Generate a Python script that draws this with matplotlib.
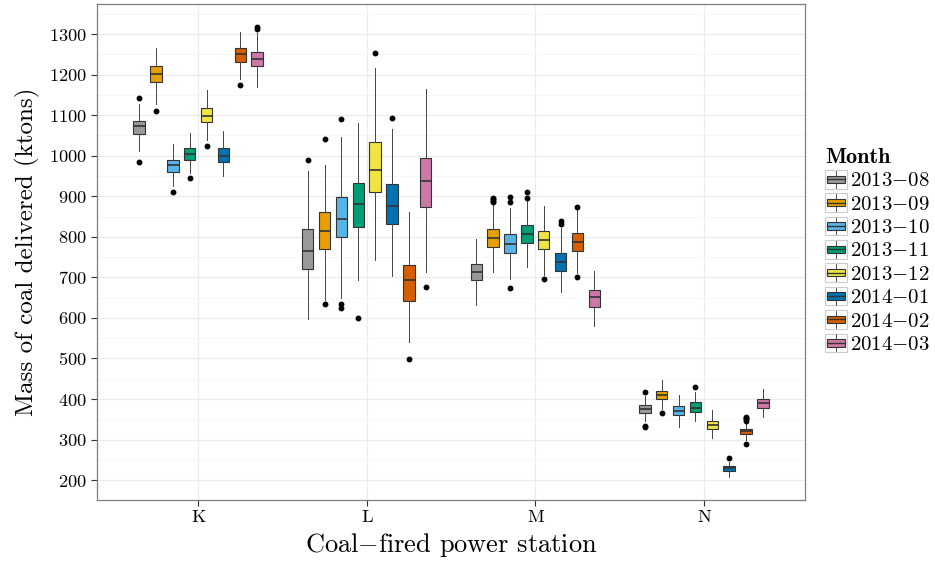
import matplotlib
matplotlib.use('Agg')
import matplotlib.pyplot as plt
import numpy as np
from matplotlib.patches import Rectangle
from matplotlib.lines import Line2D
from matplotlib.legend_handler import HandlerBase
from matplotlib.ticker import MultipleLocator

plt.rcParams['font.family'] = ['cmr10', 'DejaVu Serif']
plt.rcParams['mathtext.fontset'] = 'cm'
plt.rcParams['axes.formatter.use_mathtext'] = True

stations = ['K', 'L', 'M', 'N']
months = ['2013-08', '2013-09', '2013-10', '2013-11',
          '2013-12', '2014-01', '2014-02', '2014-03']
colors = ['#999999', '#E69F00', '#56B4E9', '#009E73',
          '#F0E442', '#0072B2', '#D55E00', '#CC79A7']

# rows = month, columns = station (K, L, M, N)
q3 = [
    [1085, 818, 734, 385],
    [1222, 860, 820, 420],
    [990, 897, 807, 382],
    [1020, 933, 829, 392],
    [1117, 1033, 814, 345],
    [1018, 929, 759, 234],
    [1265, 730, 810, 327],
    [1256, 994, 669, 399],
]
med = [
    [1072, 766, 713, 376],
    [1202, 815, 798, 409],
    [977, 845, 781, 371],
    [1003, 882, 807, 379],
    [1098, 965, 792, 336],
    [998, 877, 738, 229],
    [1250, 693, 788, 320],
    [1239, 938, 651, 389],
]
q1 = [
    [1054, 720, 693, 366],
    [1182, 770, 776, 399],
    [960, 799, 761, 360],
    [990, 825, 784, 368],
    [1082, 910, 769, 325],
    [985, 831, 715, 223],
    [1230, 642, 766, 313],
    [1220, 873, 627, 379],
]
whishi = [
    [1128, 963, 794, 408],
    [1265, 977, 882, 448],
    [1029, 1045, 870, 410],
    [1056, 1080, 888, 418],
    [1161, 1215, 876, 374],
    [1060, 1065, 821, 245],
    [1304, 860, 866, 342],
    [1303, 1164, 715, 424],
]
whislo = [
    [1012, 597, 633, 345],
    [1127, 645, 713, 375],
    [925, 648, 697, 331],
    [957, 693, 726, 345],
    [1039, 742, 707, 303],
    [950, 703, 663, 207],
    [1188, 540, 710, 300],
    [1170, 714, 581, 356],
]
fliers = [
    [[1143, 984], [990], [], [417, 333, 330]],
    [[1111], [1042, 634], [886, 889, 892, 895], [366]],
    [[911], [1091, 634, 624], [897, 885, 674], []],
    [[946], [600], [910, 896], [430]],
    [[1025], [1254], [696], []],
    [[], [1094], [839, 831], [255]],
    [[1175], [499], [874, 701], [345, 350, 353, 355, 290]],
    [[1318, 1312], [677], [], []],
]


class BoxHandler(HandlerBase):
    def create_artists(self, legend, orig_handle, xdescent, ydescent,
                       width, height, fontsize, trans):
        x0, y0 = -xdescent, -ydescent
        bg = Rectangle((x0, y0), width, height, fc='white', ec='#CCCCCC',
                       lw=0.8, transform=trans)
        bx = Rectangle((x0 + 0.1 * width, y0 + 0.3 * height), 0.8 * width,
                       0.4 * height, fc=orig_handle.get_facecolor(),
                       ec='#333333', lw=0.8, transform=trans)
        cx = x0 + width / 2
        w1 = Line2D([cx, cx], [y0 + 0.05 * height, y0 + 0.3 * height],
                    color='#333333', lw=0.6, transform=trans)
        w2 = Line2D([cx, cx], [y0 + 0.7 * height, y0 + 0.95 * height],
                    color='#333333', lw=0.6, transform=trans)
        md = Line2D([x0 + 0.1 * width, x0 + 0.9 * width],
                    [y0 + height / 2] * 2, color='#333333', lw=1.0,
                    transform=trans)
        return [bg, bx, w1, w2, md]


fig = plt.figure(figsize=(9.35, 5.67), dpi=100)
ax = fig.add_axes([97 / 935, 1 - 500 / 567, 708 / 935, 496 / 567])

base = np.arange(len(stations))
step = 0.1
bw = 0.068
handles = []
for i, m in enumerate(months):
    stats = []
    for j in range(len(stations)):
        stats.append(dict(med=med[i][j], q1=q1[i][j], q3=q3[i][j],
                          whislo=whislo[i][j], whishi=whishi[i][j],
                          fliers=fliers[i][j]))
    pos = base + (i - 3.5) * step
    ax.bxp(stats, positions=pos, widths=bw, patch_artist=True,
           showcaps=False, manage_ticks=False,
           boxprops=dict(facecolor=colors[i], edgecolor='#333333', lw=0.8),
           whiskerprops=dict(color='#444444', lw=0.7),
           medianprops=dict(color='#333333', lw=1.2),
           flierprops=dict(marker='o', markersize=3.2,
                           markerfacecolor='black', markeredgecolor='black'),
           zorder=3)
    handles.append(Rectangle((0, 0), 1, 1, fc=colors[i]))

ax.set_xlim(-0.6, len(stations) - 0.4)
ax.set_ylim(151, 1374)
ax.set_xticks(base)
ax.set_xticklabels(stations)
ax.yaxis.set_major_locator(MultipleLocator(100))
ax.yaxis.set_minor_locator(MultipleLocator(50))
ax.set_yticks(np.arange(200, 1301, 100))
ax.grid(which='major', color='#EBEBEB', lw=0.9, zorder=0)
ax.grid(which='minor', axis='y', color='#F5F5F5', lw=0.6, zorder=0)
ax.set_axisbelow(True)
ax.tick_params(which='major', direction='out', length=4, width=0.8,
               color='#333333', labelsize=13.2, labelcolor='black', pad=3)
ax.tick_params(which='minor', length=0)
for s in ax.spines.values():
    s.set_color('#7F7F7F')
    s.set_linewidth(0.9)

ax.set_xlabel(r'Coal$-$fired power station', fontsize=19, labelpad=4)
ax.set_ylabel('Mass of coal delivered (ktons)', fontsize=18, labelpad=7)

labels = [m.replace('-', '$-$') for m in months]
leg = fig.legend(handles, labels, handler_map={Rectangle: BoxHandler()},
                 loc='center left', bbox_to_anchor=(825 / 935, 1 - 251 / 567),
                 frameon=False, fontsize=15, handlelength=1.06,
                 handleheight=1.0, labelspacing=0.14, handletextpad=0.12,
                 borderpad=0, borderaxespad=0, title='Month',
                 title_fontproperties={'family': 'cmb10', 'size': 16},
                 alignment='left')

fig.savefig('out.png', dpi=100)
